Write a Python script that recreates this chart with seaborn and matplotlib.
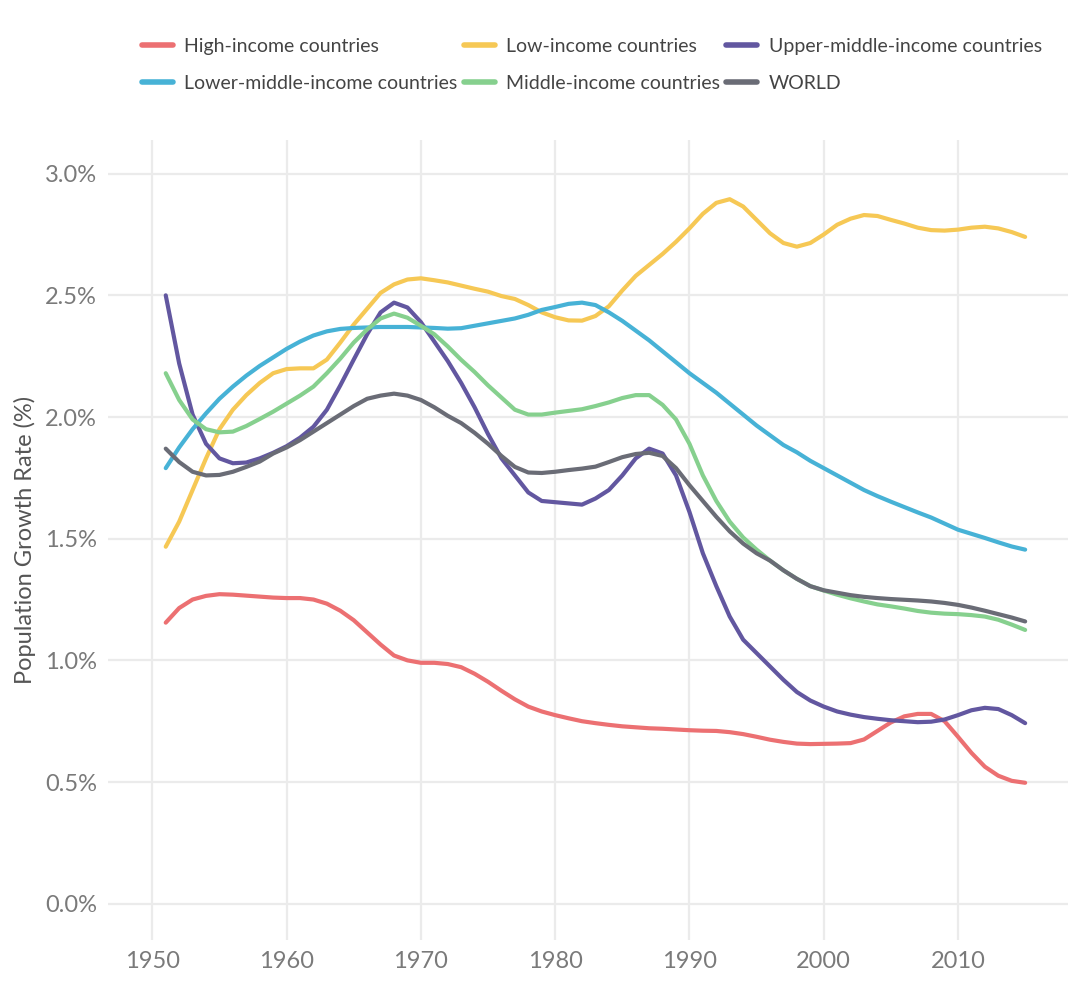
import numpy as np
import pandas as pd
import matplotlib
matplotlib.use("Agg")
import matplotlib.pyplot as plt
import seaborn as sns
from matplotlib.lines import Line2D
from matplotlib.ticker import FuncFormatter

years = list(range(1951, 2016))

high_income = [1.155, 1.215, 1.25, 1.265, 1.272, 1.27, 1.266, 1.262, 1.258, 1.256,
               1.256, 1.25, 1.233, 1.204, 1.165, 1.115, 1.065, 1.02, 1.0, 0.99,
               0.99, 0.985, 0.972, 0.945, 0.912, 0.875, 0.84, 0.81, 0.79, 0.775,
               0.762, 0.75, 0.742, 0.735, 0.729, 0.725, 0.721, 0.719, 0.716, 0.713,
               0.711, 0.71, 0.705, 0.697, 0.686, 0.674, 0.665, 0.658, 0.656, 0.657,
               0.658, 0.66, 0.675, 0.71, 0.745, 0.77, 0.78, 0.78, 0.75, 0.686,
               0.62, 0.563, 0.526, 0.505, 0.497]

low_income = [1.467, 1.57, 1.70, 1.83, 1.95, 2.03, 2.09, 2.14, 2.18, 2.197,
              2.2, 2.2, 2.236, 2.306, 2.38, 2.445, 2.51, 2.545, 2.565, 2.57,
              2.562, 2.553, 2.54, 2.527, 2.515, 2.497, 2.485, 2.46, 2.43, 2.41,
              2.397, 2.396, 2.415, 2.455, 2.52, 2.58, 2.625, 2.67, 2.72, 2.775,
              2.835, 2.88, 2.895, 2.865, 2.81, 2.755, 2.715, 2.70, 2.715, 2.75,
              2.79, 2.815, 2.83, 2.826, 2.81, 2.795, 2.778, 2.768, 2.766, 2.77,
              2.778, 2.782, 2.775, 2.76, 2.74]

upper_middle = [2.50, 2.22, 2.01, 1.89, 1.83, 1.81, 1.813, 1.83, 1.853, 1.88,
                1.915, 1.96, 2.03, 2.13, 2.236, 2.34, 2.43, 2.47, 2.45, 2.39,
                2.31, 2.23, 2.14, 2.04, 1.93, 1.83, 1.76, 1.69, 1.655, 1.65,
                1.645, 1.64, 1.665, 1.70, 1.76, 1.83, 1.87, 1.85, 1.76, 1.61,
                1.44, 1.305, 1.18, 1.085, 1.03, 0.975, 0.92, 0.87, 0.835, 0.81,
                0.79, 0.777, 0.767, 0.76, 0.754, 0.75, 0.746, 0.748, 0.757, 0.775,
                0.795, 0.805, 0.80, 0.775, 0.742]

lower_middle = [1.79, 1.875, 1.95, 2.015, 2.075, 2.125, 2.17, 2.21, 2.245, 2.28,
                2.31, 2.335, 2.352, 2.362, 2.366, 2.368, 2.37, 2.37, 2.37, 2.368,
                2.366, 2.363, 2.365, 2.375, 2.385, 2.395, 2.405, 2.42, 2.44, 2.452,
                2.465, 2.47, 2.46, 2.43, 2.395, 2.355, 2.315, 2.27, 2.225, 2.18,
                2.14, 2.1, 2.055, 2.01, 1.965, 1.925, 1.885, 1.855, 1.82, 1.79,
                1.76, 1.73, 1.7, 1.675, 1.652, 1.63, 1.608, 1.587, 1.562, 1.537,
                1.52, 1.503, 1.485, 1.468, 1.455]

middle_income = [2.18, 2.07, 1.99, 1.95, 1.937, 1.94, 1.963, 1.992, 2.022, 2.055,
                 2.088, 2.125, 2.18, 2.24, 2.306, 2.36, 2.405, 2.425, 2.408, 2.375,
                 2.34, 2.29, 2.235, 2.185, 2.13, 2.08, 2.03, 2.01, 2.01, 2.018,
                 2.025, 2.032, 2.045, 2.06, 2.078, 2.09, 2.09, 2.05, 1.99, 1.89,
                 1.76, 1.655, 1.57, 1.505, 1.455, 1.41, 1.37, 1.335, 1.305, 1.287,
                 1.27, 1.255, 1.242, 1.23, 1.222, 1.213, 1.203, 1.196, 1.192, 1.19,
                 1.186, 1.18, 1.167, 1.147, 1.125]

world = [1.87, 1.815, 1.775, 1.76, 1.762, 1.775, 1.795, 1.817, 1.85, 1.875,
         1.905, 1.94, 1.975, 2.01, 2.045, 2.075, 2.088, 2.096, 2.088, 2.07,
         2.04, 2.005, 1.975, 1.935, 1.89, 1.84, 1.795, 1.772, 1.77, 1.775,
         1.782, 1.788, 1.796, 1.815, 1.835, 1.848, 1.853, 1.84, 1.79, 1.72,
         1.655, 1.59, 1.53, 1.48, 1.44, 1.41, 1.37, 1.335, 1.305, 1.288,
         1.278, 1.268, 1.261, 1.256, 1.252, 1.249, 1.246, 1.242, 1.236, 1.228,
         1.217, 1.204, 1.19, 1.176, 1.16]

series_names = ["High-income countries", "Low-income countries",
                "Upper-middle-income countries", "Lower-middle-income countries",
                "Middle-income countries", "WORLD"]
series_values = [high_income, low_income, upper_middle, lower_middle,
                 middle_income, world]
colors = ["#ec7072", "#f6c855", "#6257a0", "#47b2d6", "#86d08e", "#6a6c76"]

x_ticks = [1950, 1960, 1970, 1980, 1990, 2000, 2010]
y_ticks = [0.0, 0.5, 1.0, 1.5, 2.0, 2.5, 3.0]

df = pd.concat([
    pd.DataFrame({"Year": years, "Rate": vals, "Series": name})
    for name, vals in zip(series_names, series_values)
], ignore_index=True)

sns.set_theme(style="white")
plt.rcParams["font.family"] = ["Lato", "DejaVu Sans"]

fig = plt.figure(figsize=(10.8, 9.83), dpi=100)
ax = fig.add_axes([0.1, 0.044, 0.889, 0.814])

palette = dict(zip(series_names, colors))
sns.lineplot(data=df, x="Year", y="Rate", hue="Series", palette=palette,
             linewidth=3.0, ax=ax, legend=False)

ax.set_xlim(1946.7, 2018.2)
ax.set_ylim(-0.148, 3.14)
ax.set_xticks(x_ticks)
ax.set_yticks(y_ticks)
ax.yaxis.set_major_formatter(FuncFormatter(lambda v, p: f"{v:.1f}%"))
ax.grid(True, color="#ebebeb", linewidth=1.6)
ax.set_axisbelow(True)
for s in ax.spines.values():
    s.set_visible(False)
ax.tick_params(axis="both", length=0, labelsize=17, labelcolor="#7a7a7a", pad=8)
ax.set_xlabel("")
ax.set_ylabel("Population Growth Rate (%)", fontsize=17, color="#555555", labelpad=6)

order = [0, 3, 1, 4, 2, 5]
handles = [Line2D([0], [0], color=colors[i], linewidth=4) for i in order]
labels = [series_names[i] for i in order]
fig.legend(handles, labels, loc="center", bbox_to_anchor=(0.548, 0.934), ncol=3,
           frameon=False, fontsize=14, handlelength=1.6, handletextpad=0.6,
           columnspacing=0.3, labelspacing=1.05, labelcolor="#444444")

fig.savefig("out.png", dpi=100, facecolor="white")
